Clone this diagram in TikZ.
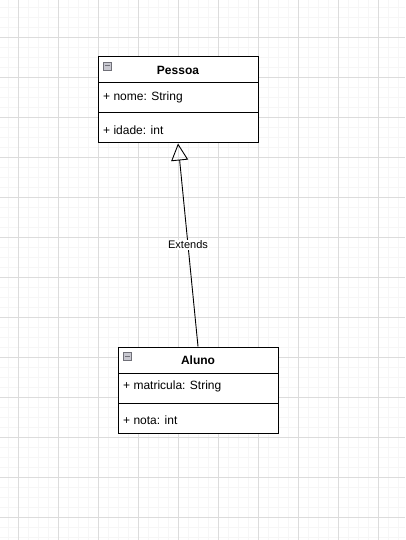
\documentclass[tikz,border=0pt]{standalone}
\usepackage{fontspec}
\setmainfont{Liberation Sans}
\usetikzlibrary{arrows.meta}
\definecolor{gridminor}{HTML}{F6F6F6}
\definecolor{gridmajor}{HTML}{DCDCDC}
\definecolor{iconfill}{HTML}{C8C8D0}
\definecolor{iconline}{HTML}{707078}
\begin{document}
\begin{tikzpicture}[x=1pt,y=-1pt,
  classbox/.style={draw=black,line width=1pt,minimum width=160pt,minimum height=86pt,inner sep=0pt},
  headbox/.style={draw=black,line width=1pt,minimum width=160pt,minimum height=26pt,inner sep=0pt,
    font=\fontsize{12}{14}\selectfont\bfseries},
  member/.style={anchor=west,inner sep=0pt,font=\fontsize{12}{14}\selectfont},
  collapse/.style={draw=iconline,fill=iconfill,line width=0.6pt,minimum size=8pt,inner sep=0pt},
  extends/.style={draw=black,line width=0.9pt,-{Triangle[open,length=17pt,width=17pt,line width=0.9pt]}},
  edgelabel/.style={fill=white,inner sep=1pt,font=\fontsize{11}{13}\selectfont}
]
\useasboundingbox (0,0) rectangle (405,540);
\fill[white] (0,0) rectangle (405,540);
% background grid
\foreach \x in {8,18,...,398} \draw[gridminor,line width=0.8pt] (\x,0) -- (\x,540);
\foreach \y in {7,17,...,537} \draw[gridminor,line width=0.8pt] (0,\y) -- (405,\y);
\foreach \x in {18,58,...,398} \draw[gridmajor,line width=0.8pt] (\x,0) -- (\x,540);
\foreach \y in {37,77,...,537} \draw[gridmajor,line width=0.8pt] (0,\y) -- (405,\y);

% class Pessoa
\node[classbox,fill=white] (pessoa) at (178,100) {};
\node[headbox] (pessoaHead) at (178,70) {Pessoa};
\draw[line width=1pt] (98,113) -- (258,113);
\node[member] (pessoaAttr) at (103,97) {+ nome: String};
\node[member] (pessoaOp) at (103,130) {+ idade: int};
\node[collapse] (pessoaIcon) at (107,66) {};
\draw[iconline,line width=1pt] (104.5,66) -- (109.5,66);

% class Aluno
\node[classbox,fill=white] (aluno) at (198,390) {};
\node[headbox] (alunoHead) at (198,360) {Aluno};
\draw[line width=1pt] (118,403) -- (278,403);
\node[member] (alunoAttr) at (123,386) {+ matricula: String};
\node[member] (alunoOp) at (123,420) {+ nota: int};
\node[collapse] (alunoIcon) at (127,356) {};
\draw[iconline,line width=1pt] (124.5,356) -- (129.5,356);

% generalization
\draw[extends] (aluno.north) -- node[edgelabel] (extLabel) {Extends} (pessoa.south);
\end{tikzpicture}
\end{document}
